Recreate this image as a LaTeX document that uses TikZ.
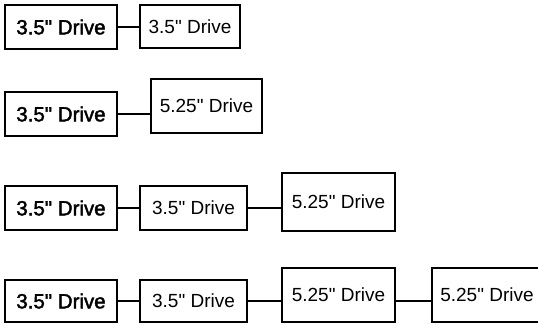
\documentclass[tikz,border=0pt]{standalone}
\usepackage{fontspec}
\setmainfont{Liberation Sans}[Ligatures=TeXOff]
\newfontfamily\heavyface{Liberation Sans}[Ligatures=TeXOff, FakeBold=2]
\usetikzlibrary{shadows}
\begin{document}
\begin{tikzpicture}[x=1pt,y=-1pt,
  drive/.style={draw, line width=1.4pt, fill=white, inner sep=0pt,
    drop shadow={shadow xshift=1.3pt, shadow yshift=-1.3pt, fill=black, opacity=1},
    font=\fontsize{19}{19}\selectfont},
  host/.style={drive, font=\heavyface\fontsize{20.5}{20.5}\selectfont},
  link/.style={line width=1.4pt}]
\clip (0,0) rectangle (538,324);
% box centres and sizes (x right, y down)
% row 1
\node[host,  minimum width=112pt, minimum height=44pt] (a1) at (61,27) {3.5" Drive};
\node[drive, minimum width=100pt, minimum height=43pt] (a2) at (190,26.5) {3.5" Drive};
\draw[link] (a1.east) -- (a1.east -| a2.west);
% row 2
\node[host,  minimum width=112pt, minimum height=44pt] (b1) at (61,114) {3.5" Drive};
\node[drive, minimum width=111pt, minimum height=54pt] (b2) at (206.5,106) {5.25" Drive};
\draw[link] (b1.east) -- (b1.east -| b2.west);
% row 3
\node[host,  minimum width=112pt, minimum height=44pt] (c1) at (61,208) {3.5" Drive};
\node[drive, minimum width=107pt, minimum height=44pt] (c2) at (193.5,208) {3.5" Drive};
\node[drive, minimum width=113pt, minimum height=58pt] (c3) at (338.5,202) {5.25" Drive};
\draw[link] (c1.east) -- (c2.west);
\draw[link] (c2.east) -- (c2.east -| c3.west);
% row 4
\node[host,  minimum width=112pt, minimum height=42pt] (d1) at (61,301) {3.5" Drive};
\node[drive, minimum width=107pt, minimum height=42pt] (d2) at (193.5,301) {3.5" Drive};
\node[drive, minimum width=113pt, minimum height=54pt] (d3) at (338.5,295) {5.25" Drive};
\node[drive, minimum width=110pt, minimum height=54pt] (d4) at (487,295) {5.25" Drive};
\draw[link] (d1.east) -- (d2.west);
\draw[link] (d2.east) -- (d2.east -| d3.west);
\draw[link] (d3.east |- d2.east) -- (d2.east -| d4.west);
\end{tikzpicture}
\end{document}
